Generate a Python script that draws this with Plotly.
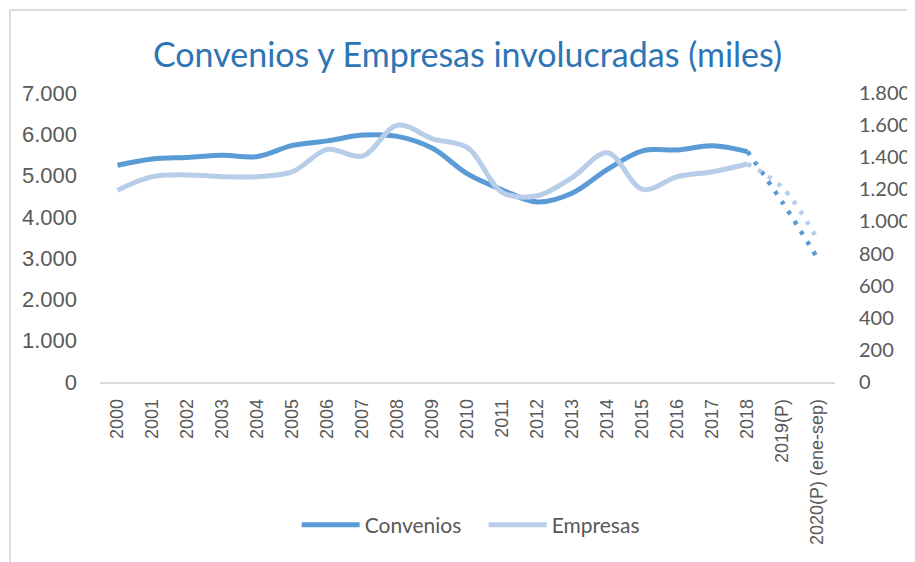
import plotly.graph_objects as go

categories = ["2000", "2001", "2002", "2003", "2004", "2005", "2006", "2007", "2008",
              "2009", "2010", "2011", "2012", "2013", "2014", "2015", "2016", "2017",
              "2018", "2019(P)", "2020(P) (ene-sep)"]
convenios = [5250, 5400, 5440, 5490, 5460, 5730, 5840, 5980, 5950, 5660, 5040,
             4650, 4360, 4580, 5150, 5600, 5620, 5720, 5580, 4350, 3000]
empresas = [1195, 1279, 1290, 1279, 1279, 1310, 1449, 1407, 1600, 1515, 1460,
            1180, 1160, 1275, 1428, 1200, 1279, 1310, 1358, 1210, 888]

left_ticks = [0, 1000, 2000, 3000, 4000, 5000, 6000, 7000]
right_ticks = [0, 200, 400, 600, 800, 1000, 1200, 1400, 1600, 1800]

C_DARK = "#5B9BD5"
C_LIGHT = "#B7CDE8"
last_real = categories.index("2018")

fig = go.Figure()
fig.add_trace(go.Scatter(x=categories[:last_real + 1], y=convenios[:last_real + 1],
                         name="Convenios", mode="lines",
                         line=dict(color=C_DARK, width=5, shape="spline", smoothing=1.0),
                         yaxis="y"))
fig.add_trace(go.Scatter(x=categories[last_real:], y=convenios[last_real:],
                         name="Convenios", mode="lines", showlegend=False,
                         line=dict(color=C_DARK, width=4.5, shape="spline", smoothing=1.0,
                                   dash="4px,8px"),
                         yaxis="y"))
fig.add_trace(go.Scatter(x=categories[:last_real + 1], y=empresas[:last_real + 1],
                         name="Empresas", mode="lines",
                         line=dict(color=C_LIGHT, width=5, shape="spline", smoothing=1.0),
                         yaxis="y2"))
fig.add_trace(go.Scatter(x=categories[last_real:], y=empresas[last_real:],
                         name="Empresas", mode="lines", showlegend=False,
                         line=dict(color=C_LIGHT, width=4.5, shape="spline", smoothing=1.0,
                                   dash="4px,8px"),
                         yaxis="y2"))

# chart-area frame (top and left edges visible in reference)
fx = (2 - 92) / 735
fy = 1 + (85 - 2) / 289
fig.add_shape(type="line", xref="paper", yref="paper", x0=fx, x1=1.2, y0=fy, y1=fy,
              line=dict(color="#D0D0D0", width=1.5))
fig.add_shape(type="line", xref="paper", yref="paper", x0=fx, x1=fx, y0=fy, y1=-1,
              line=dict(color="#D0D0D0", width=1.5))

fig.update_layout(
    width=915, height=562,
    margin=dict(l=92, r=88, t=85, b=188, pad=0),
    paper_bgcolor="white", plot_bgcolor="white",
    separators=",.",
    title=dict(text="Convenios y Empresas involucradas (miles)",
               font=dict(family="Lato", size=34, color="#2E75B6"),
               x=0.5, xref="paper", xanchor="center", y=0.916, yanchor="middle"),
    xaxis=dict(type="category", categoryorder="array", categoryarray=categories,
               range=[-0.5, len(categories) - 0.5],
               showgrid=False, showline=True, linecolor="#D9D9D9", linewidth=1.5,
               ticks="", tickangle=-90, ticklabelstandoff=8,
               tickfont=dict(family="Liberation Sans", size=18, color="#595959"),
               zeroline=False),
    yaxis=dict(range=[0, 7000], tickvals=left_ticks, tickformat=",d",
               showgrid=False, zeroline=False, showline=False, ticks="",
               ticklabelstandoff=22,
               tickfont=dict(family="Liberation Sans", size=22, color="#595959")),
    yaxis2=dict(range=[0, 1800], tickvals=right_ticks, tickformat=",d",
                overlaying="y", side="right",
                showgrid=False, zeroline=False, showline=False, ticks="",
                ticklabelstandoff=23,
                tickfont=dict(family="Lato", size=20, color="#595959")),
    legend=dict(orientation="h", x=0.522, xanchor="center", y=-0.495, yanchor="middle",
                font=dict(family="Lato", size=21, color="#595959"),
                itemwidth=58, entrywidth=114, entrywidthmode="pixels",
                bgcolor="rgba(0,0,0,0)"),
    showlegend=True,
)

fig.write_html("out.html")
